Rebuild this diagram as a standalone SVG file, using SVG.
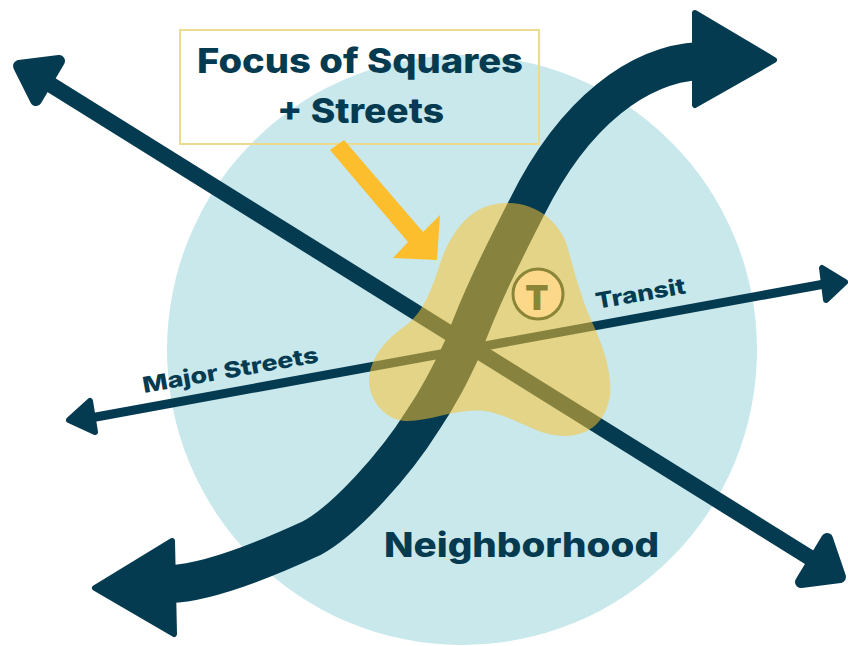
<svg xmlns="http://www.w3.org/2000/svg" width="848" height="646" viewBox="0 0 848 646">
<style>
.t{font-family:Inter,"Open Sans",sans-serif;font-weight:800;fill:#053b50}
.ln{fill:none;stroke:#053b50}
.hd{fill:#053b50;stroke:#053b50;stroke-linejoin:round}
</style>
<rect width="848" height="646" fill="#fff"/>
<g id="neighborhood"><circle cx="462" cy="350" r="295" fill="#c8e8ec"/></g>
<g id="connectors">
<path class="ln" stroke-width="16" d="M40 78L820 564"/>
<path class="hd" stroke-width="12" d="M19 66L59 61L36 100Z"/>
<path class="hd" stroke-width="12" d="M827 539L840 577L801 582Z"/>
<path class="ln" stroke-width="9" d="M85 419L830 283"/>
<path class="hd" stroke-width="6" d="M69 420L90 401L95 432Z"/>
<path class="hd" stroke-width="6" d="M845 282L822 268L826 300Z"/>
<path class="ln" stroke-width="38" d="M170 584C205 583 260 562 312 538C345 520 395 465 423 420C440 395 450 375 463 347C480 300 500 260 527 207C575 110 640 64 700 61"/>
<path class="hd" stroke-width="6" d="M695 13L774 60L695 105Z"/>
<path class="hd" stroke-width="6" d="M172 541L95 588L174 634Z"/>
</g>
<g id="focus-area"><path d="M507 203C540 203 560 225 567 245C575 275 582 300 592 322C605 350 612 375 610 395C607 420 590 436 565 436C535 436 515 416 485 411C455 408 430 422 405 421C385 420 369 400 369 380C370 358 385 340 405 326C425 312 433 285 442 258C455 225 475 203 507 203Z" fill="#fbc22d" fill-opacity=".53"/></g>
<g id="transit-stop"><circle cx="538" cy="294" r="25" fill="#fcd98a" stroke="#8b8538" stroke-width="3"/><text x="537" y="310" font-size="34" text-anchor="middle" style="font-family:Inter,sans-serif;font-weight:900;fill:#8b8538">T</text></g>
<g id="focus-label"><rect x="180" y="30" width="359" height="114" fill="none" stroke="#eadb8e" stroke-width="2"/>
<text class="t" x="197" y="73" font-size="34" textLength="326" lengthAdjust="spacingAndGlyphs">Focus of Squares</text>
<text class="t" x="277" y="123" font-size="34" textLength="167" lengthAdjust="spacingAndGlyphs">+ Streets</text></g>
<g id="focus-arrow"><path d="M330 150L344 140L423 232L440 215L437 260L393 258L408 242Z" fill="#fdbe2e"/></g>
<g id="labels">
<text class="t" x="144" y="393" font-size="22" textLength="178" lengthAdjust="spacingAndGlyphs" transform="rotate(-10 144 393)">Major Streets</text>
<text class="t" x="597" y="309" font-size="22" textLength="91" lengthAdjust="spacingAndGlyphs" transform="rotate(-10 597 309)">Transit</text>
<text class="t" x="384" y="557" font-size="34" textLength="275" lengthAdjust="spacingAndGlyphs">Neighborhood</text>
</g>
</svg>
